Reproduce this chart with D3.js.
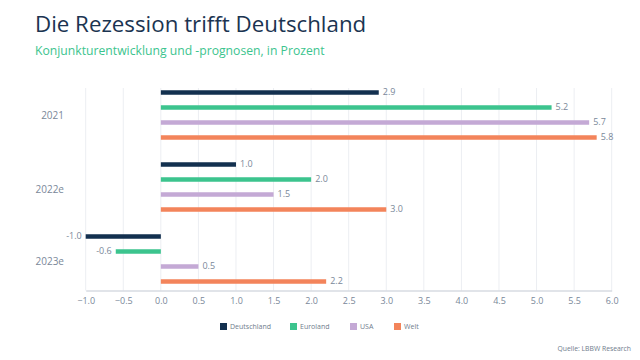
<!DOCTYPE html>
<html><head><meta charset="utf-8">
<script src="https://cdn.jsdelivr.net/npm/d3@7"></script>
<style>body{margin:0;background:#fff}svg{display:block}</style>
</head><body>
<svg id="c" width="640" height="360"></svg>
<script>
const categories = ["2021", "2022e", "2023e"];
const seriesNames = ["Deutschland", "Euroland", "USA", "Welt"];
const deutschland = [2.9, 1.0, -1.0];
const euroland = [5.2, 2.0, -0.6];
const usa = [5.7, 1.5, 0.5];
const welt = [5.8, 3.0, 2.2];
const xTicks = [-1, -0.5, 0, 0.5, 1, 1.5, 2, 2.5, 3, 3.5, 4, 4.5, 5, 5.5, 6];
const colors = ["#13304f", "#3cc48e", "#c4a9d5", "#f3845b"];

const seriesValues = [deutschland, euroland, usa, welt];
const font = "'Open Sans', 'Noto Sans', sans-serif";
const svg = d3.select("#c");

svg.append("text").attr("x", 35).attr("y", 32).attr("font-family", font)
  .attr("font-size", 22.3).attr("fill", "#1b3451").text("Die Rezession trifft Deutschland");
svg.append("text").attr("x", 35).attr("y", 55).attr("font-family", font)
  .attr("font-size", 12.2).attr("fill", "#3cc48e").text("Konjunkturentwicklung und -prognosen, in Prozent");

const x = d3.scaleLinear().domain([-1, 6]).range([85.7, 611.7]);
const y = d3.scaleBand().domain(categories).range([79, 295]);
const ySub = d3.scaleBand().domain(seriesNames).range([-30, 30]).paddingInner(0.7).paddingOuter(0.35);
const plotTop = 88, plotBottom = 290.5;

// grid
svg.append("g").selectAll("line").data(xTicks).join("line")
  .attr("x1", d => x(d)).attr("x2", d => x(d))
  .attr("y1", plotTop).attr("y2", plotBottom)
  .attr("stroke", "#eceef2").attr("stroke-width", 1);

// axis
const axis = svg.append("g").attr("transform", `translate(0,${plotBottom})`)
  .call(d3.axisBottom(x).tickValues(xTicks).tickFormat(d3.format(".1f")).tickSize(0).tickPadding(7));
axis.select(".domain").attr("stroke", "#c3cad4").attr("stroke-width", 1.2);
axis.selectAll("text").attr("font-family", font).attr("font-size", 9).attr("fill", "#7a8899");

// category labels
svg.append("g").selectAll("text").data(categories).join("text")
  .attr("x", 64).attr("y", d => y(d) + y.bandwidth() / 2 + (d === "2021" ? 1 : 3))
  .attr("text-anchor", "end").attr("dominant-baseline", "middle")
  .attr("font-family", font).attr("font-size", 10).attr("fill", "#7a8899").text(d => d);

// bars
const bw = ySub.bandwidth();
seriesNames.forEach((s, si) => {
  const vals = seriesValues[si];
  const g = svg.append("g");
  g.selectAll("rect").data(vals).join("rect")
    .attr("x", d => x(Math.min(0, d)))
    .attr("width", d => Math.abs(x(d) - x(0)))
    .attr("y", (d, i) => y(categories[i]) + y.bandwidth() / 2 + ySub(s))
    .attr("height", bw)
    .attr("fill", colors[si]);
  g.selectAll("text").data(vals).join("text")
    .attr("x", d => d >= 0 ? x(d) + 4 : x(d) - 4)
    .attr("y", (d, i) => y(categories[i]) + y.bandwidth() / 2 + ySub(s) + bw / 2)
    .attr("dominant-baseline", "middle")
    .attr("text-anchor", d => d >= 0 ? "start" : "end")
    .attr("font-family", font).attr("font-size", 9).attr("fill", "#7a8899")
    .text(d => d3.format(".1f")(d).replace("−", "-"));
});

// legend
const legendX = [220, 290, 350, 394];
const lg = svg.append("g");
seriesNames.forEach((s, i) => {
  lg.append("rect").attr("x", legendX[i]).attr("y", 323).attr("width", 7).attr("height", 7).attr("fill", colors[i]);
  lg.append("text").attr("x", legendX[i] + 10).attr("y", 327).attr("dominant-baseline", "middle")
    .attr("font-family", font).attr("font-size", 7).attr("fill", "#6f7d8d").text(s);
});

svg.append("text").attr("x", 631).attr("y", 351).attr("text-anchor", "end")
  .attr("font-family", font).attr("font-size", 6.8).attr("fill", "#6f7d8d").text("Quelle: LBBW Research");
</script>
</body></html>
